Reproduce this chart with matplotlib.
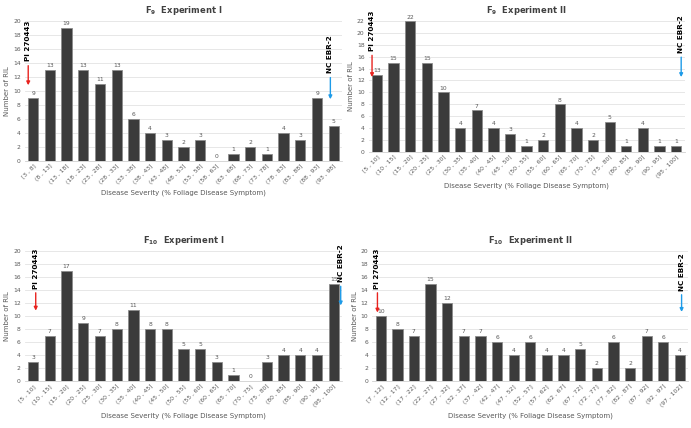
import numpy as np
import matplotlib
matplotlib.use('Agg')
from matplotlib import pyplot as plt

# bins and RIL counts for each panel
labels_f9_1 = ['[3 , 8]', '(8 , 13]', '(13 , 18]', '(18 , 23]', '(23 , 28]', '(28 , 33]', '(33 , 38]',
               '(38 , 43]', '(43 , 48]', '(48 , 53]', '(53 , 58]', '(58 , 63]', '(63 , 68]', '(68 , 73]',
               '(73 , 78]', '(78 , 83]', '(83 , 88]', '(88 , 93]', '(93 , 98]']
counts_f9_1 = [9, 13, 19, 13, 11, 13, 6, 4, 3, 2, 3, 0, 1, 2, 1, 4, 3, 9, 5]

labels_5 = ['[5 , 10]', '(10 , 15]', '(15 , 20]', '(20 , 25]', '(25 , 30]', '(30 , 35]', '(35 , 40]',
            '(40 , 45]', '(45 , 50]', '(50 , 55]', '(55 , 60]', '(60 , 65]', '(65 , 70]', '(70 , 75]',
            '(75 , 80]', '(80 , 85]', '(85 , 90]', '(90 , 95]', '(95 , 100]']
counts_f9_2 = [13, 15, 22, 15, 10, 4, 7, 4, 3, 1, 2, 8, 4, 2, 5, 1, 4, 1, 1]
counts_f10_1 = [3, 7, 17, 9, 7, 8, 11, 8, 8, 5, 5, 3, 1, 0, 3, 4, 4, 4, 15]

labels_f10_2 = ['[7 , 12]', '(12 , 17]', '(17 , 22]', '(22 , 27]', '(27 , 32]', '(32 , 37]', '(37 , 42]',
                '(42 , 47]', '(47 , 52]', '(52 , 57]', '(57 , 62]', '(62 , 67]', '(67 , 72]', '(72 , 77]',
                '(77 , 82]', '(82 , 87]', '(87 , 92]', '(92 , 97]', '(97 , 102]']
counts_f10_2 = [10, 8, 7, 15, 12, 7, 7, 6, 4, 6, 4, 4, 5, 2, 6, 2, 7, 6, 4]

bar_color = '#3b3b3b'
text_gray = '#595959'

fig = plt.figure(figsize=(6.91, 4.28), dpi=100)

# (title, labels, counts, ymax, axes rect, red arrow (x, y_tip, y_tail), blue arrow (x, y_tip, y_tail))
panels = [
    (r'F$_\mathbf{9}$  Experiment I', labels_f9_1, counts_f9_1, 20, [0.036, 0.6245, 0.459, 0.3265],
     (-0.3, 10.4, 14.0), (17.8, 8.4, 12.3)),
    (r'F$_\mathbf{9}$  Experiment II', labels_5, counts_f9_2, 22, [0.5336, 0.6456, 0.457, 0.305],
     (-0.3, 12.1, 16.7), (18.3, 12.1, 16.4)),
    (r'F$_\mathbf{10}$  Experiment I', labels_5, counts_f10_1, 20, [0.036, 0.1098, 0.459, 0.3037],
     (0.15, 10.4, 14.0), (18.42, 11.2, 15.0)),
    (r'F$_\mathbf{10}$  Experiment II', labels_f10_2, counts_f10_2, 20, [0.539, 0.1098, 0.457, 0.3037],
     (-0.2, 10.1, 14.0), (18.1, 10.2, 13.7)),
]

for title, labels, counts, ymax, rect, red, blue in panels:
    ax = fig.add_axes(rect)
    x = np.arange(len(counts))
    ax.bar(x, counts, width=0.62, color=bar_color, edgecolor='#8c8c8c', linewidth=0.6, zorder=3)
    for xi, c in zip(x, counts):
        ax.text(xi, c + ymax * 0.012, str(c), ha='center', va='bottom', fontsize=4.3, color=text_gray)

    ax.set_xlim(-0.5, len(counts) - 0.5)
    ax.set_ylim(0, ymax)
    ax.set_yticks(np.arange(0, ymax + 1, 2))
    ax.set_xticks(x)
    ax.set_xticklabels(labels, rotation=45, ha='right', rotation_mode='anchor', fontsize=4.3, color=text_gray)
    ax.tick_params(axis='y', labelsize=4.3, labelcolor=text_gray, length=0, pad=3)
    ax.tick_params(axis='x', length=0, pad=2)
    ax.grid(axis='y', color='#e3e3e3', linewidth=0.6, zorder=0)
    for s in ['top', 'right', 'left']:
        ax.spines[s].set_visible(False)
    ax.spines['bottom'].set_color('#d0d0d0')
    ax.spines['bottom'].set_linewidth(0.6)

    ax.set_title(title, fontsize=6, fontweight='bold', color='#404040', pad=6)
    ax.set_xlabel('Disease Severity (% Foliage Disease Symptom)', fontsize=5, color=text_gray, labelpad=3)
    ax.set_ylabel('Number of RIL', fontsize=5, color=text_gray, labelpad=2)

    # parent markers
    for (ax_x, tip, tail), col, name in [(red, '#e8231f', 'PI 270443'), (blue, '#1e9be8', 'NC EBR-2')]:
        ax.annotate('', xy=(ax_x, tip), xytext=(ax_x, tail),
                    arrowprops=dict(arrowstyle='-|>', color=col, lw=1.0, mutation_scale=5), zorder=5)
        ax.text(ax_x, tail + ymax * 0.01, name, rotation=90, ha='center', va='bottom',
                fontsize=5.2, fontweight='bold', color='black', zorder=6)

fig.savefig('out.png', dpi=100)
